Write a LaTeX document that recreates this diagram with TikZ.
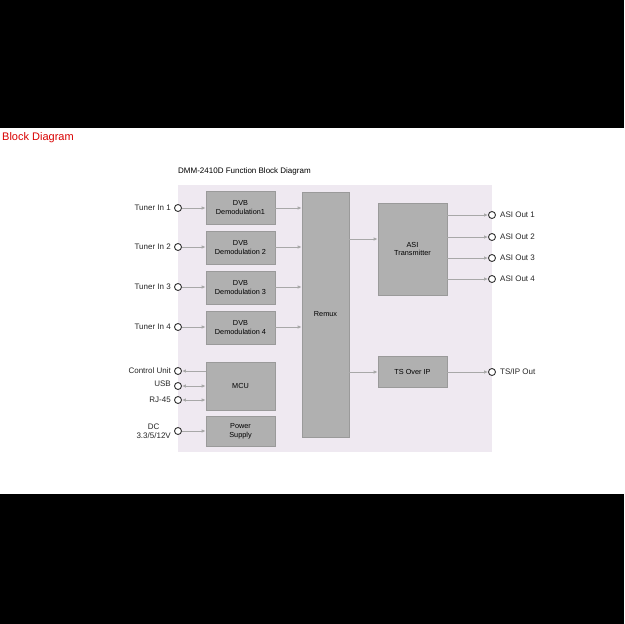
\documentclass[tikz,border=0pt]{standalone}
\usepackage{fontspec}
\setmainfont{Liberation Sans}
\usetikzlibrary{arrows.meta}
\definecolor{panel}{HTML}{EFE9F1}
\definecolor{boxf}{HTML}{B0B0B0}
\definecolor{boxd}{HTML}{9A9A9A}
\definecolor{ln}{HTML}{A8A8A8}
\begin{document}
\begin{tikzpicture}[x=1pt,y=-1pt,
  blk/.style={draw=boxd,fill=boxf,line width=0.6pt,font=\fontsize{7.3}{8.5}\selectfont,align=center,inner sep=0pt},
  port/.style={circle,draw=black!80,line width=0.9pt,fill=white,minimum size=7pt,inner sep=0pt},
  lbl/.style={font=\fontsize{8}{9}\selectfont,text=black!85,inner sep=1pt},
  con/.style={draw=ln,line width=1pt,-{Latex[length=4pt,width=3.5pt]}},
  bcon/.style={draw=ln,line width=1pt,{Latex[length=4pt,width=3.5pt]}-{Latex[length=4pt,width=3.5pt]}}]
\fill[black] (0,0) rectangle (624,624);
\fill[white] (0,128) rectangle (624,494);
\useasboundingbox (0,0) rectangle (624,624);
\node[anchor=west,text=red!85!black,font=\fontsize{11}{12}\selectfont,inner sep=0pt] (bd) at (2,138) {Block Diagram};
\fill[panel] (178,185) rectangle (492,452);
\node[anchor=west,font=\fontsize{8}{9}\selectfont,inner sep=0pt] (tt) at (178,171) {DMM-2410D Function Block Diagram};
% blocks
\foreach \i/\y/\t in {1/191/Demodulation1,2/231/Demodulation 2,3/271/Demodulation 3,4/311/Demodulation 4}{
  \node[blk,minimum width=69pt,minimum height=33pt] (d\i) at (240.5,\y+16.5) {DVB\\\t};
}
\node[blk,minimum width=47pt,minimum height=245pt] (rmx) at (325.5,314.5) {Remux};
\node[blk,minimum width=69pt,minimum height=92pt] (asi) at (412.5,249) {ASI\\Transmitter};
\node[blk,minimum width=69pt,minimum height=31pt] (ts) at (412.5,371.5) {TS Over IP};
\node[blk,minimum width=69pt,minimum height=48pt] (mcu) at (240.5,386) {MCU};
\node[blk,minimum width=69pt,minimum height=30pt] (pwr) at (240.5,431) {Power\\Supply};
% tuners
\foreach \i/\y in {1/208,2/247,3/287,4/327}{
  \node[port] (t\i) at (178,\y) {};
  \node[lbl,anchor=east] at (172,\y) {Tuner In \i};
  \draw[con] (t\i) -- (t\i -| d\i.west);
  \draw[con] (d\i.east |- 0,\y) -- (rmx.west |- 0,\y);
}
\draw[con] (rmx.east |- 0,239) -- (asi.west |- 0,239);
\draw[con] (rmx.east |- 0,372) -- (ts.west |- 0,372);
% ASI outs
\foreach \i/\y in {1/215,2/237,3/258,4/279}{
  \node[port] (o\i) at (492,\y) {};
  \node[lbl,anchor=west] at (499,\y) {ASI Out \i};
  \draw[con] (asi.east |- o\i) -- (o\i);
}
\node[port] (tso) at (492,372) {};
\node[lbl,anchor=west] at (499,372) {TS/IP Out};
\draw[con] (ts.east |- tso) -- (tso);
% MCU ports
\node[port] (cu) at (178,371) {};
\node[lbl,anchor=east] at (172,371) {Control Unit};
\draw[con] (mcu.west |- cu) -- (cu);
\node[port] (usb) at (178,386) {};
\node[lbl,anchor=east] at (172,384) {USB};
\draw[bcon] (usb) -- (mcu.west |- usb);
\node[port] (rj) at (178,400) {};
\node[lbl,anchor=east] at (172,400) {RJ-45};
\draw[bcon] (rj) -- (mcu.west |- rj);
\node[port] (dc) at (178,431) {};
\node[lbl,anchor=east,align=center] at (172,431) {DC\\3.3/5/12V};
\draw[con] (dc) -- (pwr.west |- dc);
\end{tikzpicture}
\end{document}
